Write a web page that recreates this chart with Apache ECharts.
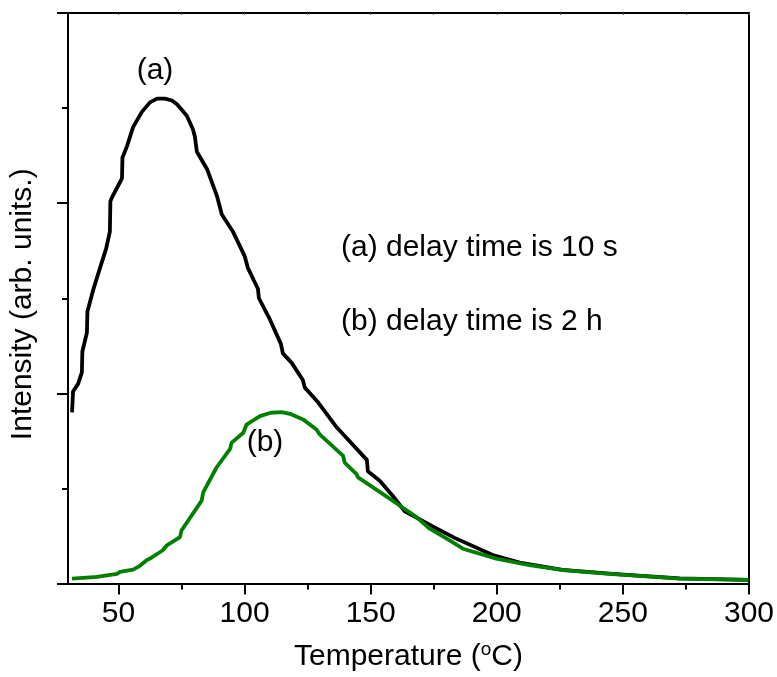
<!DOCTYPE html>
<html><head><meta charset="utf-8">
<script src="https://cdn.jsdelivr.net/npm/echarts@6/dist/echarts.min.js"></script>
<style>html,body{margin:0;padding:0;background:#fff}#c{width:777px;height:677px}</style>
</head><body><div id="c"></div>
<script>
// Curve (a): delay time 10 s
const tempA = [31.6,32.0,34.0,35.5,35.7,37.5,37.7,39.9,42.7,45.1,46.6,46.8,47.8,50.6,51.4,51.6,53.4,55.8,59.3,62.5,65.3,68.4,71.2,73.2,75.2,77.1,79.5,80.3,81.1,85.1,89.0,91.0,95.4,100.1,101.3,105.3,105.7,110.0,114.4,115.2,118.7,123.1,123.9,128.7,136.6,148.5,148.9,153.6,158.8,163.5,174.6,183.3,198.4,209.1,226.1,245.9,272.5,299.8];
const intensityA = [0.90,1.01,1.05,1.11,1.22,1.32,1.43,1.54,1.66,1.76,1.85,2.01,2.04,2.11,2.13,2.24,2.30,2.40,2.48,2.53,2.55,2.55,2.54,2.52,2.49,2.46,2.39,2.35,2.27,2.18,2.04,1.94,1.85,1.72,1.66,1.55,1.50,1.39,1.26,1.21,1.16,1.07,1.03,0.96,0.82,0.65,0.59,0.54,0.46,0.38,0.30,0.24,0.15,0.11,0.072,0.051,0.027,0.019];
// Curve (b): delay time 2 h
const tempB = [31.6,41.5,49.4,50.6,55.8,58.5,61.3,62.5,67.6,69.2,74.4,75.0,83.0,83.6,88.9,94.2,94.9,99.5,100.8,106.1,110.4,114.7,118.0,123.2,128.5,129.8,139.1,139.7,144.4,145.0,154.9,161.5,168.2,173.4,181.3,186.6,199.8,213.0,226.2,246.0,272.5,299.8];
const intensityB = [0.026,0.035,0.051,0.061,0.073,0.093,0.124,0.131,0.175,0.201,0.244,0.279,0.436,0.479,0.610,0.706,0.741,0.793,0.836,0.880,0.898,0.901,0.892,0.863,0.810,0.784,0.671,0.636,0.575,0.558,0.470,0.410,0.349,0.288,0.227,0.183,0.131,0.096,0.070,0.049,0.026,0.019];
// Axis ticks
const majorTicks = [50,100,150,200,250,300];
const minorTicks = [75,125,175,225,275];
const topTicks = [50,75,100,125,150,175,200,225,250,275,300];
const xName = 'Temperature ({sup|o}C)';
const yName = 'Intensity (arb. units.)';
const curveLabels = ['(a)','(b)'];
const notes = ['(a) delay time is 10 s','(b) delay time is 2 h'];

const FONT = 'Liberation Sans, Arial, sans-serif';
const FS = 30;
const pairs = (xs, ys) => xs.map((x, i) => [x, ys[i]]);
const lineAx = {show:true, lineStyle:{color:'#000', width:2}};

const chart = echarts.init(document.getElementById('c'), null, {renderer:'canvas'});
chart.setOption({
  animation:false,
  backgroundColor:'#fff',
  grid:{left:68, right:27, top:13, bottom:90, containLabel:false},
  xAxis:[
    {type:'value', position:'bottom', min:30, max:300,
     axisLine:lineAx, splitLine:{show:false},
     axisTick:{show:true, inside:false, length:11, lineStyle:{width:2,color:'#000'}, customValues:majorTicks},
     axisLabel:{show:true, customValues:majorTicks, margin:15, color:'#000', fontSize:FS, fontFamily:FONT},
     name:xName, nameLocation:'middle', nameGap:57,
     nameTextStyle:{color:'#000', fontSize:FS, fontFamily:FONT,
       rich:{sup:{fontSize:19, fontFamily:FONT, color:'#000', verticalAlign:'top', padding:[0,0,14,0]}}}},
    {type:'value', position:'bottom', min:30, max:300,
     axisLine:{show:false}, splitLine:{show:false},
     axisTick:{show:true, inside:false, length:6, lineStyle:{width:2,color:'#000'}, customValues:minorTicks},
     axisLabel:{show:false}},
    {type:'value', position:'top', min:30, max:300,
     axisLine:lineAx, splitLine:{show:false},
     axisTick:{show:true, inside:true, length:2, lineStyle:{width:1,color:'#555'}, customValues:topTicks},
     axisLabel:{show:false}}
  ],
  yAxis:[
    {type:'value', position:'left', min:0, max:3, interval:1,
     axisLine:lineAx, splitLine:{show:false},
     axisTick:{show:true, inside:false, length:11, lineStyle:{width:2,color:'#000'}},
     minorTick:{show:true, splitNumber:2, length:6, lineStyle:{width:2,color:'#000'}},
     minorSplitLine:{show:false},
     axisLabel:{show:false},
     name:yName, nameLocation:'middle', nameGap:30, nameRotate:90,
     nameTextStyle:{color:'#000', fontSize:FS, fontFamily:FONT, padding:[0,12,0,0]}},
    {type:'value', position:'right', min:0, max:3, interval:1,
     axisLine:lineAx, splitLine:{show:false}, axisTick:{show:false}, axisLabel:{show:false}}
  ],
  series:[
    {type:'line', name:'a', xAxisIndex:0, yAxisIndex:0, data:pairs(tempA, intensityA),
     showSymbol:false, symbol:'none', smooth:false, lineStyle:{color:'#000', width:3.8}, z:3},
    {type:'line', name:'b', xAxisIndex:0, yAxisIndex:0, data:pairs(tempB, intensityB),
     showSymbol:false, symbol:'none', smooth:false, lineStyle:{color:'#008000', width:3.8}, z:4}
  ],
  graphic:[
    {type:'text', x:155, y:71, z:10, style:{text:curveLabels[0], fontSize:FS, fontFamily:FONT, fill:'#000', align:'center', verticalAlign:'middle'}},
    {type:'text', x:265, y:443, z:10, style:{text:curveLabels[1], fontSize:FS, fontFamily:FONT, fill:'#000', align:'center', verticalAlign:'middle'}},
    {type:'text', x:341, y:248, z:10, style:{text:notes[0], fontSize:FS, fontFamily:FONT, fill:'#000', align:'left', verticalAlign:'middle'}},
    {type:'text', x:341, y:322, z:10, style:{text:notes[1], fontSize:FS, fontFamily:FONT, fill:'#000', align:'left', verticalAlign:'middle'}}
  ]
});
</script></body></html>
